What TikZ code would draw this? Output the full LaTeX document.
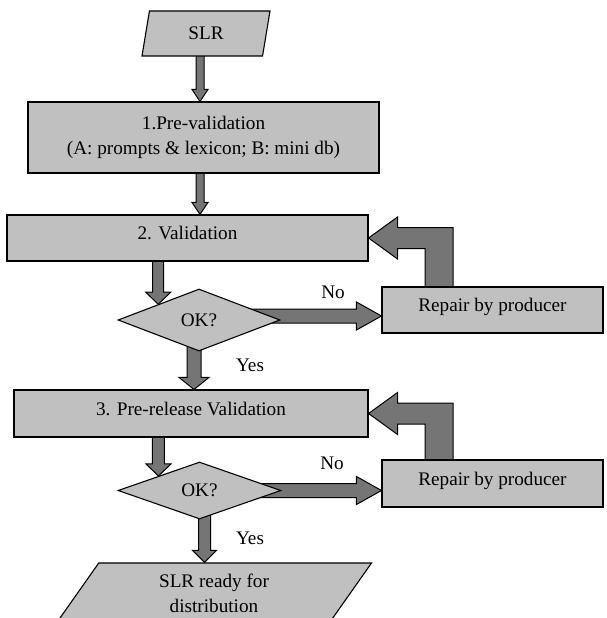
\documentclass[tikz,border=0pt]{standalone}
\usepackage{fontspec}
\setmainfont{Liberation Serif}
\usepackage{tikz}
\usetikzlibrary{positioning,calc,shapes.geometric,backgrounds}
\definecolor{boxgray}{RGB}{192,192,192}
\definecolor{arrowgray}{RGB}{117,117,117}
% block arrows: start, end, shaft half width, head half width
\newcommand{\downblk}[4]{\filldraw[block arrow] let \p1=#1, \p2=#2 in
  (\x1-#3,\y1) -- (\x1-#3,\y2+12pt) -- (\x1-#4,\y2+12pt) -- (\x1,\y2) --
  (\x1+#4,\y2+12pt) -- (\x1+#3,\y2+12pt) -- (\x1+#3,\y1) -- cycle;}
\newcommand{\rightblk}[2]{\filldraw[block arrow] let \p1=#1, \p2=#2 in
  (\x1,\y1+7pt) -- (\x2-25pt,\y1+7pt) -- (\x2-25pt,\y1+14pt) -- (\x2,\y1) --
  (\x2-25pt,\y1-14pt) -- (\x2-25pt,\y1-7pt) -- (\x1,\y1-7pt) -- cycle;}
\newcommand{\loopblk}[2]{\filldraw[block arrow] let \p1=#1, \p2=#2 in
  (\x1-14pt,\y1) -- (\x1-14pt,\y2-10.5pt) -- (\x2+29pt,\y2-10.5pt) --
  (\x2+29pt,\y2-21pt) -- (\x2,\y2) -- (\x2+29pt,\y2+21pt) -- (\x2+29pt,\y2+10.5pt) --
  (\x1+14pt,\y2+10.5pt) -- (\x1+14pt,\y1) -- cycle;}

\begin{document}
\begin{tikzpicture}[x=1pt,y=1pt,font=\fontsize{19.2}{25}\selectfont,
                box node/.style={rectangle,draw,line width=1.1pt,fill=boxgray,inner sep=0pt,text depth=10pt},
                test node/.style={diamond,draw,line width=1.1pt,fill=boxgray,inner sep=0pt},
                data node/.style={trapezium,draw,line width=1.1pt,fill=boxgray,inner sep=0pt,
                                  trapezium stretches body,align=center},
                block arrow/.style={draw=black,fill=arrowgray,line width=1pt,line join=miter}]
\useasboundingbox (0,0) rectangle (606,-618);
\clip (0,0) rectangle (606,-618);
%Nodes
    \node[data node, trapezium left angle=60, trapezium right angle=120,
          minimum width=128, minimum height=45] (slr) at (206,-33.5) {SLR};
    \node[box node, minimum width=351, minimum height=71, align=center, text depth=]
          (pv) at (203.5,-137.5) {1.Pre-validation\\(A: prompts \& lexicon; B: mini db)};
    \node[box node, minimum width=361, minimum height=46] (val) at (187.5,-238) {2. Validation};
    \node[test node, minimum width=162, minimum height=62] (ok1) at (199,-320) {OK?};
    \node[box node, minimum width=221, minimum height=46] (rep1) at (492.5,-310) {Repair by producer};
    \node[box node, minimum width=354, minimum height=47] (prv) at (191,-413.5) {3. Pre-release Validation};
    \node[test node, minimum width=163, minimum height=57] (ok2) at (199.5,-490.5) {OK?};
    \node[box node, minimum width=221, minimum height=47] (rep2) at (492.5,-483.5) {Repair by producer};
    \node[data node, trapezium left angle=42.5, trapezium right angle=137.5,
          minimum width=315, minimum height=60] (ready) at (214,-593) {SLR ready for\\distribution};
%Labels
    \node (no1) at (333,-292) {No};
    \node (yes1) at (250,-365) {Yes};
    \node (no2) at (332,-463) {No};
    \node (yes2) at (250,-538) {Yes};
    \coordinate (mid) at (200,-80);
    \coordinate (loopx) at (439,-300);
%Arrows
\begin{pgfonlayer}{background}
    \downblk{(slr.center -| mid)}{(pv.north)}{4pt}{8pt}
    \downblk{(pv.center -| mid)}{(val.north)}{4pt}{8pt}
    \downblk{(val.center -| ok1.north west)}{(ok1.north west)}{5.5pt}{12.5pt}
    \downblk{($(ok1.center)+(-5,0)$)}{(prv.north)}{7pt}{15pt}
    \downblk{(prv.center -| ok2.north west)}{(ok2.north west)}{6pt}{12.5pt}
    \downblk{($(ok2.center)+(5,0)$)}{(ready.north)}{6pt}{12pt}
    \rightblk{($(ok1.center)+(0,4)$)}{(rep1.west)}
    \rightblk{(ok2.center)}{(rep2.west)}
    \loopblk{(rep1.center -| loopx)}{(val.east)}
    \loopblk{(rep2.center -| loopx)}{(prv.east)}
\end{pgfonlayer}
\end{tikzpicture}
\end{document}
